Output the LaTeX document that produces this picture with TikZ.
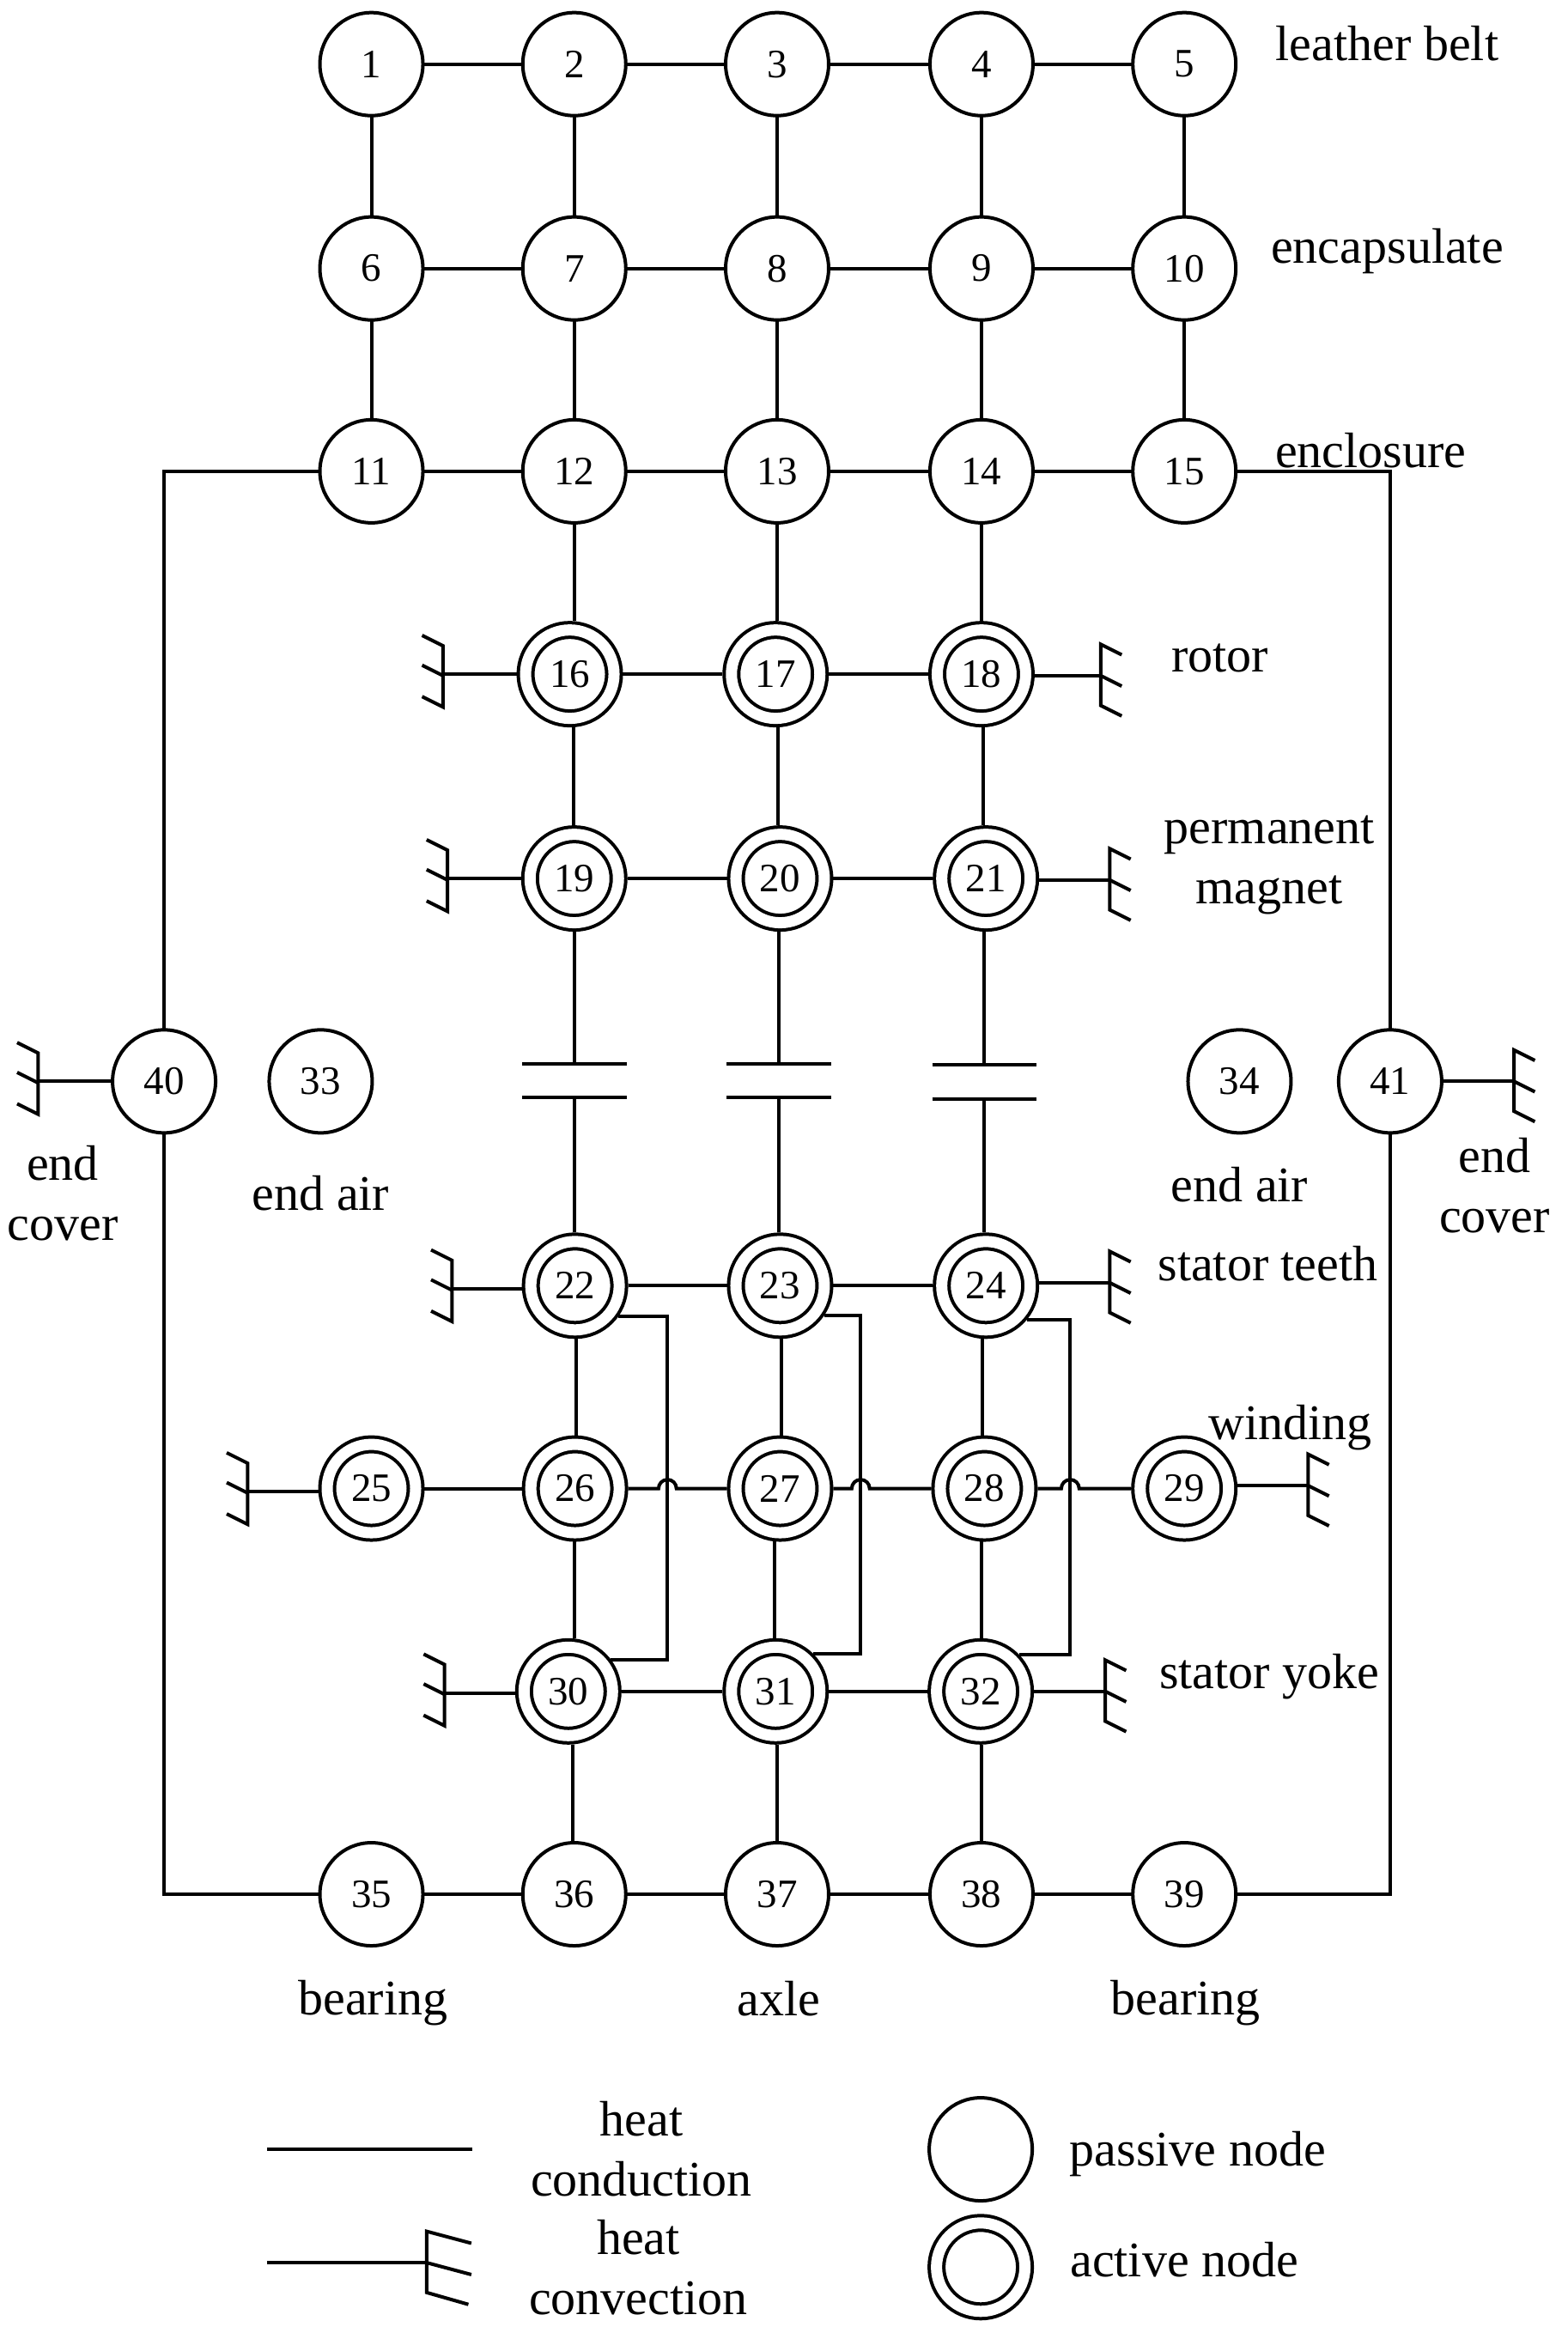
\documentclass[tikz,border=0pt]{standalone}
\usepackage{fontspec}
\setmainfont{Liberation Serif}
\tikzset{
  conn/.style={line width=2pt,line join=miter},
  passive/.style={circle,draw,line width=2pt,fill=white,inner sep=0pt,outer sep=0pt,minimum size=60pt,font=\fontsize{23.5}{26}\selectfont},
  active/.style={circle,draw,line width=2pt,double,double distance=6.5pt,inner sep=0pt,outer sep=5.2pt,minimum size=51.5pt,font=\fontsize{23.5}{26}\selectfont},
  lab/.style={inner sep=0pt,align=center,font=\fontsize{29}{35}\selectfont},
}
% vertical connector from node #1 to node #2, offset #3 in pt
\newcommand\vcon[3]{\draw[conn] ([xshift=#3pt]#1.south) -- ([xshift=#3pt]#1.south |- #2.north);}
% convection symbol opening to the left: stem from node #1, bar at x=#2, y=#3
\newcommand\convL[3]{\coordinate (cv) at (#2,#3);
  \draw[conn] (#1.west |- cv) -- (cv);
  \draw[conn] (#2-14,#3-26) -- (#2,#3-19) -- (#2,#3+22) -- (#2-14,#3+15);
  \draw[conn] (#2,#3+1) -- (#2-14,#3-6);}
% convection symbol opening to the right
\newcommand\convR[3]{\coordinate (cv) at (#2,#3);
  \draw[conn] (#1.east |- cv) -- (cv);
  \draw[conn] (#2+14,#3-14) -- (#2,#3-21) -- (#2,#3+20) -- (#2+14,#3+27);
  \draw[conn] (#2,#3) -- (#2+14,#3+7);}
\begin{document}
\begin{tikzpicture}[x=0.8685pt,y=-0.8685pt]
\useasboundingbox (0,0) rectangle (1051.2,1568.2);
% passive nodes
\foreach \n/\x/\y in {1/249/43,2/385/43,3/521/43,4/658/43,5/794/43,
  6/249/180,7/385/180,8/521/180,9/658/180,10/794/180,
  11/249/316,12/385/316,13/521/316,14/658/316,15/794/316,
  33/215/725,34/831/725,40/110/725,41/932/725,
  35/249/1270,36/385/1270,37/521/1270,38/658/1270,39/794/1270}
  \node[passive] (n\n) at (\x,\y) {\n};
% active nodes
\foreach \n/\x/\y in {16/382/452,17/520/452,18/658/452,
  19/385/589,20/523/589,21/661/589,
  22/385.5/862,23/523/862,24/661/862,
  25/249/998,26/385.5/998,27/523/998,28/660/998,29/794/998,
  30/381/1134,31/520/1134,32/657.5/1134}
  \node[active] (n\n) at (\x,\y) {\n};
% horizontal conduction
\foreach \a/\b in {1/2,2/3,3/4,4/5,6/7,7/8,8/9,9/10,11/12,12/13,13/14,14/15,
  16/17,17/18,19/20,20/21,22/23,23/24,25/26,30/31,31/32,35/36,36/37,37/38,38/39}
  \draw[conn] (n\a.east) -- (n\b.west);
% vertical conduction
\foreach \a/\b in {1/6,2/7,3/8,4/9,5/10,6/11,7/12,8/13,9/14,10/15}
  \draw[conn] (n\a.south) -- (n\b.north);
\vcon{n12}{n16}{0}
\vcon{n13}{n17}{0}
\vcon{n14}{n18}{0}
\vcon{n16}{n19}{2}
\vcon{n17}{n20}{1.5}
\vcon{n18}{n21}{1}
\vcon{n22}{n26}{0.5}
\vcon{n23}{n27}{1}
\vcon{n24}{n28}{-2}
\vcon{n26}{n30}{-0.5}
\vcon{n27}{n31}{-3}
\vcon{n28}{n32}{-1.5}
\vcon{n30}{n36}{2.5}
\vcon{n31}{n37}{1}
\vcon{n32}{n38}{0.5}
% outer frame
\draw[conn] (n11.west) -| (n40.north);
\draw[conn] (n15.east) -| (n41.north);
\draw[conn] (n40.south) |- (n35.west);
\draw[conn] (n41.south) |- (n39.east);
% capacitive gaps
\foreach \c/\t/\b/\x/\y/\dy in {a/19/22/385/713/0,b/20/23/522/713/0,c/21/24/660/714/0}{
  \coordinate (p\c1) at (\x,\y);
  \coordinate (p\c2) at (\x,\y+23);
  \draw[conn] (n\t.south -| p\c1) -- (p\c1);
  \draw[conn] (p\c2) -- (n\b.north -| p\c2);
  \draw[conn] (\x-35,\y) -- (\x+35,\y);
  \draw[conn] (\x-35,\y+23) -- (\x+35,\y+23);
}
% by-pass connectors
\coordinate (b1) at (447.5,1000);
\coordinate (b2) at (577,1000);
\coordinate (b3) at (717.5,1000);
\draw[conn] (n22.-35) -| (b1) |- (n30.37);
\draw[conn] (n23.-34) -| (b2) |- (n31.45);
\draw[conn] (n24.-40) -| (b3) |- (n32.44);
% row 26-29 with hops over the by-pass connectors
\draw[conn] (n26.east) -- (441.5,998) arc[start angle=180,end angle=360,radius=6] -- (n27.west);
\draw[conn] (n27.east) -- (571,998) arc[start angle=180,end angle=360,radius=6] -- (n28.west);
\draw[conn] (n28.east) -- (711.5,998) arc[start angle=180,end angle=360,radius=6] -- (n29.west);
% convection symbols
\convL{n16}{297}{452}
\convL{n19}{300}{589}
\convL{n22}{303}{864}
\convL{n25}{166}{1000}
\convL{n30}{298}{1135}
\convL{n40}{25.5}{725}
\convR{n18}{738}{453}
\convR{n21}{744}{590}
\convR{n24}{744}{860}
\convR{n29}{877}{996}
\convR{n32}{741}{1134}
\convR{n41}{1015}{725}
% labels
\node[lab] (l1) at (930,29) {leather belt};
\node[lab] (l2) at (930,168.5) {encapsulate};
\node[lab] (l3) at (919,302) {enclosure};
\node[lab] (l4) at (818,441) {rotor};
\node[lab] (l5) at (851,580) {permanent\\magnet};
\node[lab] (l6) at (215,800) {end air};
\node[lab] (l7) at (42,800) {end\\cover};
\node[lab] (l8) at (831,794) {end air};
\node[lab] (l9) at (1002,795) {end\\cover};
\node[lab] (l10) at (850,847) {stator teeth};
\node[lab] (l11) at (865,957) {winding};
\node[lab] (l12) at (851,1124) {stator yoke};
\node[lab] (l13) at (250,1343) {bearing};
\node[lab] (l14) at (522,1340) {axle};
\node[lab] (l15) at (795,1343) {bearing};
% legend
\coordinate (k1) at (179,1441);
\coordinate (k2) at (316.5,1441);
\draw[conn] (k1) -- (k2);
\coordinate (k3) at (179,1517);
\coordinate (k4) at (286,1517);
\draw[conn] (k3) -- (k4);
\draw[conn] (316,1504) -- (286,1496) -- (286,1537) -- (314,1545);
\draw[conn] (k4) -- (316,1525);
\node[lab] (l16) at (430,1441) {heat\\conduction};
\node[lab] (l17) at (428,1520) {heat\\convection};
\node[passive] (legP) at (657.5,1441) {};
\node[active] (legA) at (657.5,1520) {};
\node[lab] (l18) at (803,1444) {passive node};
\node[lab] (l19) at (794,1515) {active node};
\end{tikzpicture}
\end{document}
